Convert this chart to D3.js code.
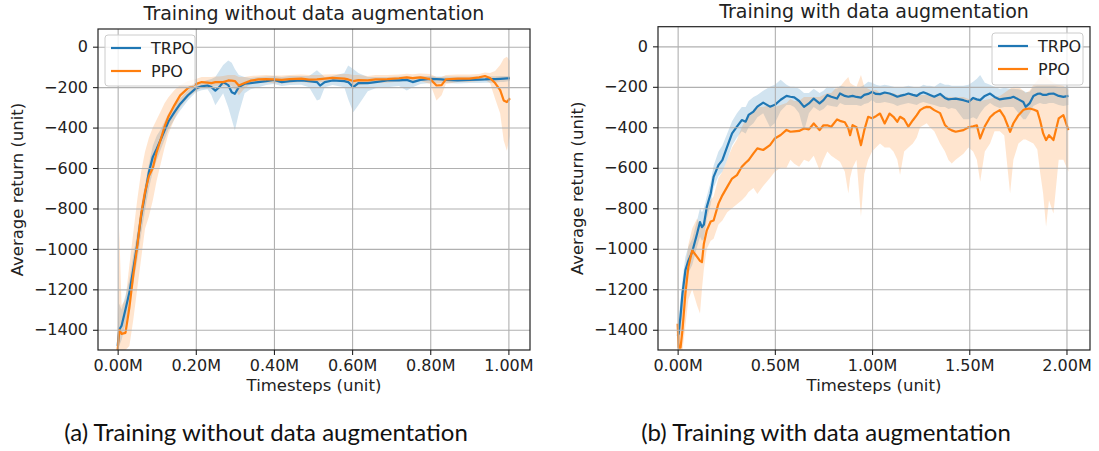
<!DOCTYPE html>
<html>
<head>
<meta charset="utf-8">
<script src="https://cdn.jsdelivr.net/npm/d3@7"></script>
<style>
  html, body { margin: 0; padding: 0; background: #ffffff; }
  svg { display: block; }
</style>
</head>
<body>
<svg id="fig" width="1099" height="451"></svg>
<script>
// ---- Panel (a): training without data augmentation (timesteps in millions) ----
const stepsA = [0, 0.004, 0.01, 0.02, 0.03, 0.04, 0.05, 0.06, 0.07, 0.08,
  0.09, 0.1, 0.11, 0.12, 0.13, 0.145, 0.16, 0.18, 0.2, 0.215,
  0.23, 0.24, 0.25, 0.26, 0.27, 0.283, 0.292, 0.3, 0.31, 0.325,
  0.34, 0.36, 0.38, 0.4, 0.42, 0.44, 0.47, 0.49, 0.51, 0.518,
  0.53, 0.55, 0.58, 0.59, 0.603, 0.616, 0.64, 0.66, 0.69, 0.72,
  0.74, 0.755, 0.775, 0.8, 0.816, 0.829, 0.84, 0.87, 0.9, 0.925,
  0.94, 0.953, 0.966, 0.979, 0.988, 0.996, 1.004];

const trpoMeanA = [-1480, -1400, -1380, -1300, -1215, -1100, -980, -840, -730, -620,
  -545, -505, -460, -415, -370, -325, -283, -240, -206, -196,
  -192, -200, -217, -200, -175, -190, -225, -233, -200, -183,
  -180, -175, -170, -164, -175, -170, -167, -170, -175, -192,
  -175, -167, -170, -175, -200, -180, -180, -175, -167, -167,
  -164, -175, -164, -159, -160, -162, -164, -167, -164, -163,
  -162, -160, -160, -159, -158, -157, -156];
const trpoLowA = [-1500, -1480, -1450, -1370, -1280, -1170, -1060, -930, -810, -700,
  -620, -560, -510, -460, -410, -360, -315, -265, -225, -215,
  -210, -240, -290, -260, -230, -300, -360, -415, -330, -230,
  -210, -200, -190, -185, -195, -190, -188, -200, -266, -260,
  -200, -190, -200, -260, -324, -290, -220, -205, -200, -195,
  -217, -200, -185, -180, -182, -180, -180, -182, -180, -180,
  -178, -178, -178, -175, -175, -172, -170];
const trpoHighA = [-1400, -1270, -1300, -1230, -1150, -1030, -920, -790, -680, -580,
  -490, -440, -410, -370, -330, -290, -255, -215, -185, -175,
  -165, -160, -150, -120, -90, -68, -80, -110, -140, -150,
  -155, -150, -148, -145, -150, -145, -145, -145, -117, -130,
  -150, -145, -130, -93, -110, -130, -150, -150, -150, -148,
  -148, -150, -145, -145, -148, -148, -148, -148, -148, -148,
  -148, -146, -146, -145, -145, -145, -145];

const ppoMeanA = [-1500, -1400, -1420, -1415, -1290, -1130, -990, -830, -720, -640,
  -600, -520, -460, -395, -345, -290, -241, -205, -185, -175,
  -178, -180, -175, -175, -175, -167, -168, -170, -192, -180,
  -168, -162, -160, -162, -164, -160, -158, -163, -162, -160,
  -158, -154, -158, -162, -170, -165, -167, -162, -160, -156,
  -152, -155, -152, -160, -192, -190, -162, -158, -158, -152,
  -145, -155, -180, -215, -266, -274, -255];
const ppoLowA = [-1500, -1500, -1500, -1500, -1480, -1350, -1200, -1050, -900, -840,
  -760, -660, -580, -500, -430, -360, -300, -250, -220, -200,
  -200, -200, -195, -195, -195, -190, -195, -210, -240, -205,
  -185, -180, -178, -180, -182, -178, -175, -180, -178, -176,
  -174, -170, -175, -180, -200, -190, -185, -180, -178, -172,
  -170, -172, -170, -185, -266, -240, -185, -175, -175, -170,
  -165, -180, -258, -330, -464, -514, -440];
const ppoHighA = [-1380, -900, -1280, -1250, -1080, -920, -760, -620, -520, -450,
  -400, -360, -320, -280, -250, -215, -190, -170, -160, -150,
  -150, -150, -148, -148, -145, -140, -140, -140, -150, -150,
  -145, -142, -140, -142, -142, -140, -138, -140, -140, -140,
  -138, -136, -135, -135, -140, -140, -145, -140, -140, -138,
  -134, -136, -133, -135, -150, -150, -140, -138, -138, -135,
  -128, -130, -120, -90, -60, -50, -70];

// ---- Panel (b): training with data augmentation (timesteps in millions) ----
const stepsB = [0, 0.005, 0.015, 0.025, 0.04, 0.055, 0.075, 0.1, 0.115, 0.125,
  0.135, 0.15, 0.17, 0.185, 0.21, 0.23, 0.255, 0.28, 0.305, 0.33,
  0.35, 0.365, 0.39, 0.41, 0.44, 0.475, 0.5, 0.53, 0.56, 0.58,
  0.6, 0.625, 0.65, 0.675, 0.7, 0.73, 0.75, 0.77, 0.79, 0.82,
  0.835, 0.86, 0.878, 0.887, 0.9, 0.92, 0.943, 0.96, 0.98, 1.0,
  1.02, 1.041, 1.065, 1.09, 1.11, 1.13, 1.144, 1.165, 1.187, 1.21,
  1.23, 1.247, 1.264, 1.281, 1.298, 1.32, 1.35, 1.375, 1.393, 1.41,
  1.43, 1.47, 1.496, 1.52, 1.539, 1.556, 1.58, 1.607, 1.63, 1.657,
  1.68, 1.71, 1.727, 1.753, 1.778, 1.79, 1.81, 1.83, 1.85, 1.864,
  1.88, 1.895, 1.91, 1.933, 1.96, 1.984, 2.01];

const trpoMeanB = [-1430, -1420, -1330, -1220, -1105, -1060, -1015, -926, -868, -893,
  -880, -793, -727, -645, -587, -562, -496, -430, -397, -364,
  -372, -339, -322, -298, -278, -298, -289, -264, -245, -249,
  -252, -270, -299, -282, -258, -282, -266, -241, -249, -258,
  -233, -245, -249, -247, -245, -250, -253, -240, -235, -225,
  -235, -236, -228, -233, -240, -249, -245, -240, -233, -240,
  -245, -233, -227, -233, -240, -249, -235, -255, -262, -260,
  -258, -266, -274, -255, -262, -266, -245, -233, -250, -262,
  -258, -255, -249, -262, -275, -299, -282, -245, -235, -233,
  -240, -240, -235, -233, -245, -250, -245];
const trpoLowB = [-1500, -1480, -1420, -1320, -1180, -1120, -1080, -990, -940, -960,
  -950, -850, -780, -700, -640, -620, -560, -490, -450, -420,
  -430, -400, -380, -350, -330, -400, -380, -320, -290, -290,
  -300, -330, -420, -330, -300, -320, -310, -290, -295, -300,
  -280, -290, -290, -290, -290, -290, -295, -285, -280, -265,
  -280, -280, -275, -280, -285, -295, -290, -285, -280, -285,
  -290, -280, -275, -280, -285, -290, -300, -300, -310, -305,
  -310, -360, -360, -350, -360, -330, -300, -280, -295, -305,
  -300, -300, -300, -330, -360, -360, -330, -295, -285, -280,
  -285, -285, -280, -280, -290, -295, -290];
const trpoHighB = [-800, -1350, -1250, -1150, -1040, -990, -950, -860, -800, -820,
  -800, -740, -670, -590, -520, -490, -430, -370, -330, -300,
  -300, -270, -250, -240, -220, -200, -190, -165, -190, -200,
  -200, -210, -230, -230, -210, -230, -220, -200, -205, -210,
  -195, -200, -205, -200, -200, -205, -200, -190, -175, -180,
  -190, -195, -190, -195, -200, -205, -205, -200, -195, -200,
  -205, -200, -190, -195, -195, -200, -180, -190, -190, -195,
  -195, -195, -190, -175, -160, -142, -180, -190, -200, -210,
  -205, -210, -210, -212, -220, -225, -225, -200, -195, -195,
  -195, -195, -195, -195, -200, -200, -200];

const ppoMeanB = [-1370, -1488, -1488, -1400, -1220, -1090, -1008, -1040, -1060, -1066,
  -975, -909, -865, -860, -777, -736, -694, -653, -636, -595,
  -575, -562, -529, -504, -512, -488, -455, -438, -413, -422,
  -420, -418, -406, -410, -381, -414, -390, -390, -397, -361,
  -368, -375, -406, -439, -389, -400, -488, -414, -348, -355,
  -345, -332, -381, -332, -348, -373, -348, -360, -397, -365,
  -340, -315, -305, -299, -300, -315, -330, -389, -406, -415,
  -422, -414, -400, -395, -390, -455, -395, -350, -330, -315,
  -348, -422, -380, -340, -315, -310, -307, -312, -320, -365,
  -430, -463, -439, -463, -356, -340, -414];
const ppoLowB = [-1500, -1500, -1500, -1500, -1380, -1250, -1200, -1280, -1320, -1200,
  -1100, -1000, -960, -950, -880, -860, -820, -800, -780, -760,
  -740, -720, -700, -730, -690, -650, -620, -600, -600, -560,
  -580, -595, -560, -570, -540, -612, -560, -520, -540, -560,
  -570, -620, -727, -650, -600, -560, -842, -630, -560, -520,
  -500, -480, -500, -500, -520, -560, -636, -520, -500, -480,
  -450, -400, -390, -380, -400, -420, -480, -520, -562, -579,
  -560, -530, -500, -520, -560, -669, -520, -480, -420, -420,
  -440, -727, -560, -480, -460, -460, -470, -480, -510, -620,
  -727, -891, -760, -826, -560, -560, -620];
const ppoHighB = [-900, -1350, -1380, -1250, -1100, -980, -900, -850, -880, -900,
  -860, -800, -760, -740, -650, -620, -560, -500, -460, -400,
  -360, -340, -320, -300, -300, -290, -300, -290, -280, -260,
  -270, -270, -250, -250, -250, -250, -240, -230, -230, -200,
  -200, -170, -151, -180, -190, -200, -142, -200, -210, -220,
  -215, -230, -230, -230, -230, -240, -235, -235, -240, -240,
  -235, -240, -240, -240, -245, -250, -245, -248, -250, -250,
  -252, -250, -260, -260, -265, -270, -265, -260, -250, -245,
  -230, -210, -200, -200, -220, -230, -220, -190, -170, -150,
  -134, -150, -165, -180, -190, -195, -215];

// ---- Axis ticks and text ----
const returnTicks = [0, -200, -400, -600, -800, -1000, -1200, -1400];
const stepTicksA = [0, 0.2, 0.4, 0.6, 0.8, 1.0];
const stepTicksB = [0, 0.5, 1.0, 1.5, 2.0];
const seriesNames = ["TRPO", "PPO"];
const titleA = "Training without data augmentation";
const titleB = "Training with data augmentation";
const captionA = "(a) Training without data augmentation";
const captionB = "(b) Training with data augmentation";
const xLabel = "Timesteps (unit)";
const yLabel = "Average return (unit)";

// ---- Drawing ----
const svg = d3.select("#fig");
svg.append("rect").attr("width", 1099).attr("height", 451).attr("fill", "#ffffff");

const FONT = "'DejaVu Sans', sans-serif";
const colors = { TRPO: "#1f77b4", PPO: "#ff7f0e" };
const defs = svg.append("defs");

function zipSeries(steps, mean, lo, hi) {
  return steps.map((s, i) => ({ s, m: mean[i], lo: lo[i], hi: hi[i] }));
}

function drawPanel(cfg) {
  const x = d3.scaleLinear().domain(cfg.xDomain).range([cfg.left, cfg.right]);
  const y = d3.scaleLinear().domain(cfg.yDomain).range([cfg.bottom, cfg.top]);
  const w = cfg.right - cfg.left, h = cfg.bottom - cfg.top;
  const g = svg.append("g");

  defs.append("clipPath").attr("id", cfg.id)
    .append("rect").attr("x", cfg.left).attr("y", cfg.top).attr("width", w).attr("height", h);
  const plot = g.append("g").attr("clip-path", `url(#${cfg.id})`);

  const area = d3.area().x(d => x(d.s)).y0(d => y(d.lo)).y1(d => y(d.hi));
  const line = d3.line().x(d => x(d.s)).y(d => y(d.m));

  // confidence bands
  cfg.series.forEach(sr => {
    plot.append("path").datum(sr.data).attr("d", area)
      .attr("fill", colors[sr.name]).attr("fill-opacity", 0.2).attr("stroke", "none");
  });

  // grid
  const gx = g.append("g").attr("transform", `translate(0,${cfg.bottom})`)
    .call(d3.axisBottom(x).tickValues(cfg.xTicks).tickSize(-h).tickFormat(""));
  const gy = g.append("g").attr("transform", `translate(${cfg.left},0)`)
    .call(d3.axisLeft(y).tickValues(returnTicks).tickSize(-w).tickFormat(""));
  [gx, gy].forEach(a => {
    a.select(".domain").remove();
    a.selectAll("line").attr("stroke", "#b0b0b0").attr("stroke-width", 1.1);
  });

  // mean curves
  cfg.series.forEach(sr => {
    plot.append("path").datum(sr.data).attr("d", line)
      .attr("fill", "none").attr("stroke", colors[sr.name])
      .attr("stroke-width", 2.2).attr("stroke-linejoin", "round");
  });

  // axes with ticks and labels
  const ax = g.append("g").attr("transform", `translate(0,${cfg.bottom})`)
    .call(d3.axisBottom(x).tickValues(cfg.xTicks).tickSize(5).tickPadding(5)
      .tickFormat(d => d3.format(".2f")(d) + "M"));
  const ay = g.append("g").attr("transform", `translate(${cfg.left},0)`)
    .call(d3.axisLeft(y).tickValues(returnTicks).tickSize(5).tickPadding(5)
      .tickFormat(d3.format("d")));
  [ax, ay].forEach(a => {
    a.select(".domain").remove();
    a.selectAll("line").attr("stroke", "#222").attr("stroke-width", 1.1);
    a.selectAll("text").attr("font-family", FONT).attr("font-size", 16).attr("fill", "#222");
  });

  // frame
  g.append("rect").attr("x", cfg.left).attr("y", cfg.top).attr("width", w).attr("height", h)
    .attr("fill", "none").attr("stroke", "#222").attr("stroke-width", 1.2);

  // title and axis labels
  g.append("text").attr("x", (cfg.left + cfg.right) / 2).attr("y", cfg.titleY)
    .attr("text-anchor", "middle").attr("font-family", FONT).attr("font-size", 19)
    .attr("fill", "#222").text(cfg.title);
  g.append("text").attr("x", (cfg.left + cfg.right) / 2).attr("y", 391)
    .attr("text-anchor", "middle").attr("font-family", FONT).attr("font-size", 16.5)
    .attr("fill", "#222").text(xLabel);
  g.append("text").attr("transform", `translate(${cfg.yLabelX},${(cfg.top + cfg.bottom) / 2}) rotate(-90)`)
    .attr("text-anchor", "middle").attr("font-family", FONT).attr("font-size", 16.5)
    .attr("fill", "#222").text(yLabel);

  // legend
  const L = cfg.legend;
  const lg = g.append("g");
  lg.append("rect").attr("x", L.x).attr("y", L.y).attr("width", L.w).attr("height", L.h)
    .attr("rx", 3).attr("fill", "#ffffff").attr("fill-opacity", 0.8)
    .attr("stroke", "#cccccc").attr("stroke-width", 1);
  seriesNames.forEach((name, i) => {
    const ry = L.y + 13 + i * 23;
    lg.append("line").attr("x1", L.x + 6).attr("x2", L.x + 36).attr("y1", ry).attr("y2", ry)
      .attr("stroke", colors[name]).attr("stroke-width", 2.2);
    lg.append("text").attr("x", L.x + 46).attr("y", ry + 5.8)
      .attr("font-family", FONT).attr("font-size", 16).attr("fill", "#222").text(name);
  });

  // caption
  svg.append("text").attr("x", cfg.captionX).attr("y", 441).attr("text-anchor", "middle")
    .attr("font-family", "Lato, sans-serif").attr("font-size", 24).attr("fill", "#111")
    .text(cfg.caption);
}

drawPanel({
  id: "clipA", left: 98, right: 530, top: 29, bottom: 350,
  xDomain: [-0.0503, 1.0553], yDomain: [-1500, 87.5], xTicks: stepTicksA,
  title: titleA, titleY: 20, yLabelX: 23,
  legend: { x: 105, y: 35, w: 90, h: 51 },
  caption: captionA, captionX: 266,
  series: [
    { name: "TRPO", data: zipSeries(stepsA, trpoMeanA, trpoLowA, trpoHighA) },
    { name: "PPO", data: zipSeries(stepsA, ppoMeanA, ppoLowA, ppoHighA) }
  ]
});

drawPanel({
  id: "clipB", left: 658, right: 1090, top: 26.7, bottom: 350,
  xDomain: [-0.101, 2.121], yDomain: [-1500, 97], xTicks: stepTicksB,
  title: titleB, titleY: 18, yLabelX: 583,
  legend: { x: 992, y: 33, w: 91, h: 52 },
  caption: captionB, captionX: 826,
  series: [
    { name: "TRPO", data: zipSeries(stepsB, trpoMeanB, trpoLowB, trpoHighB) },
    { name: "PPO", data: zipSeries(stepsB, ppoMeanB, ppoLowB, ppoHighB) }
  ]
});
</script>
</body>
</html>
